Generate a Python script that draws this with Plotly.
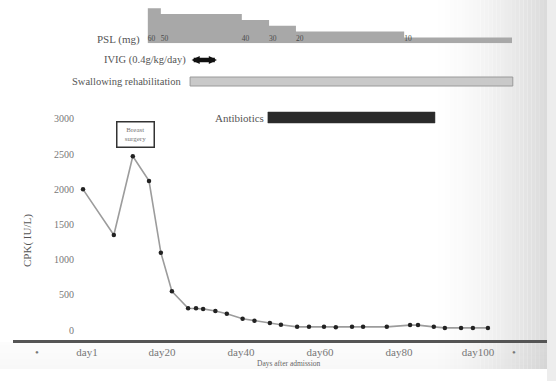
import plotly.graph_objects as go

# ---------------- data ----------------
cpk_days = [0, 7.8, 12.6, 16.7, 19.7, 22.5, 26.6, 28.6, 30.4, 33.5, 36.4, 40.4, 43.4,
            47.3, 50.1, 54.2, 57.2, 61.0, 64.0, 68.1, 70.9, 76.9, 82.8, 84.8, 88.8,
            91.6, 95.7, 98.7, 102.5]
cpk_values = [2000, 1350, 2470, 2120, 1100, 550, 310, 310, 300, 270, 230, 160, 130,
              100, 75, 45, 45, 45, 40, 45, 45, 45, 70, 70, 45, 30, 30, 30, 30]

psl_start_days = [16.4, 19.7, 40.2, 47.1, 53.9, 81.3, 108.6]
psl_dose_mg = [60, 50, 40, 30, 20, 10, 10]

ivig_days = [27.1, 33.9]
swallow_days = [27.1, 108.8]
antibiotic_days = [46.8, 89.1]
surgery_day = 13.2

tick_days = [-11.7, 1, 20, 40, 60, 80, 100, 109.1]
tick_text = ["•", "day1", "day20", "day40", "day60", "day80", "day100", "•"]
y_ticks = [0, 500, 1000, 1500, 2000, 2500, 3000]

FONT = "Liberation Serif"
W, H = 556, 381
ML, MR, MT, MB = 13, 9, 0, 41
PW = W - ML - MR
PH = H - MT - MB


def px_x(px):
    return (px - ML) / PW


def px_y(py):
    return (H - MB - py) / PH


fig = go.Figure()

# PSL step bars
fig.add_trace(go.Scatter(
    x=psl_start_days, y=psl_dose_mg, mode="lines", line_shape="hv",
    line=dict(width=0, color="#a8a8a8"), fill="tozeroy", fillcolor="#a8a8a8",
    yaxis="y2", hoverinfo="skip", showlegend=False))
fig.add_trace(go.Scatter(
    x=psl_start_days[:-1], y=[6.5] * (len(psl_dose_mg) - 1),
    text=[str(v) for v in psl_dose_mg[:-1]], mode="text", textposition="middle right",
    textfont=dict(family=FONT, size=7.5, color="#4a4a4a"), yaxis="y2",
    hoverinfo="skip", showlegend=False, cliponaxis=False))

# CPK curve
fig.add_trace(go.Scatter(
    x=cpk_days, y=cpk_values, mode="lines+markers",
    line=dict(color="#9c9c9c", width=1.6),
    marker=dict(size=4.5, color="#222"), showlegend=False, cliponaxis=False))

shapes = []
# background vignette (decorative)
n = 30
for i in range(n):
    x0 = 430 + i * (547 - 430) / n
    x1 = 430 + (i + 1) * (547 - 430) / n
    g = int(round(255 - 36 * ((i + 1) / n) ** 1.6))
    shapes.append(dict(type="rect", xref="paper", yref="paper", x0=px_x(x0), x1=px_x(x1),
                       y0=px_y(369), y1=px_y(0), fillcolor=f"rgb({g},{g},{g})",
                       line=dict(width=0), layer="below"))
shapes.append(dict(type="rect", xref="paper", yref="paper", x0=px_x(547), x1=px_x(556),
                   y0=px_y(381), y1=px_y(0), fillcolor="#ededed", line=dict(width=0), layer="below"))
for i in range(8):
    y0 = 342 + i * 27 / 8
    y1 = 342 + (i + 1) * 27 / 8
    a = 0.025 + 0.03 * i / 8
    shapes.append(dict(type="rect", xref="paper", yref="paper", x0=px_x(0), x1=px_x(547),
                       y0=px_y(y1), y1=px_y(y0), fillcolor=f"rgba(120,120,120,{a:.3f})",
                       line=dict(width=0), layer="below"))

# Swallowing rehabilitation bar
shapes.append(dict(type="rect", xref="x", yref="paper", x0=swallow_days[0], x1=swallow_days[1],
                   y0=px_y(86), y1=px_y(77), fillcolor="#c9c9c9",
                   line=dict(color="#9a9a9a", width=1)))
# Antibiotics bar
shapes.append(dict(type="rect", xref="x", yref="paper", x0=antibiotic_days[0], x1=antibiotic_days[1],
                   y0=px_y(123), y1=px_y(112), fillcolor="#2a2a2a",
                   line=dict(color="#333", width=0.5)))

annotations = [
    dict(text="PSL (mg)", x=14.9, xref="x", y=px_y(39), yref="paper", xanchor="right",
         yanchor="middle", showarrow=False, font=dict(family=FONT, size=11, color="#555")),
    dict(text="IVIG (0.4g/kg/day)", x=26.6, xref="x", y=px_y(60), yref="paper", xanchor="right",
         yanchor="middle", showarrow=False, font=dict(family=FONT, size=10.5, color="#555")),
    dict(text="Swallowing rehabilitation", x=25.6, xref="x", y=px_y(81), yref="paper",
         xanchor="right", yanchor="middle", showarrow=False,
         font=dict(family=FONT, size=10.5, color="#555")),
    dict(text="Antibiotics", x=46.3, xref="x", y=px_y(118), yref="paper", xanchor="right",
         yanchor="middle", showarrow=False, font=dict(family=FONT, size=11, color="#555")),
    dict(text="", x=ivig_days[1], xref="x", y=px_y(60), yref="paper",
         ax=ivig_days[0], axref="x", ay=0, ayref="pixel", showarrow=True,
         arrowhead=2, arrowside="end+start", arrowwidth=4.5, arrowsize=0.36, arrowcolor="#111"),
    dict(text="Breast<br>surgery", x=surgery_day, xref="x", y=2773, yref="y",
         xanchor="center", yanchor="middle",
         showarrow=False, font=dict(family=FONT, size=7, color="#777"),
         bordercolor="#333", borderwidth=1.5, borderpad=2, bgcolor="white",
         width=32, height=20),
    dict(text="CPK( IU/L)", x=px_x(28), xref="paper", y=px_y(241), yref="paper",
         xanchor="center", yanchor="middle",
         textangle=-90, showarrow=False, font=dict(family=FONT, size=11, color="#555")),
    dict(text="Days after admission", x=px_x(289), xref="paper", y=px_y(363), yref="paper",
         xanchor="center", yanchor="middle",
         showarrow=False, font=dict(family=FONT, size=7.5, color="#666")),
]

fig.update_layout(
    width=W, height=H, margin=dict(l=ML, r=MR, t=MT, b=MB),
    paper_bgcolor="white", plot_bgcolor="rgba(0,0,0,0)",
    font=dict(family=FONT, color="#777"),
    xaxis=dict(range=[-17.73, 117.46], showline=True, linecolor="#555", linewidth=2.5,
               tickvals=tick_days, ticktext=tick_text, ticks="", showgrid=False, zeroline=False,
               ticklabelstandoff=0,
               tickfont=dict(family=FONT, size=11, color="#777")),
    yaxis=dict(domain=[0, px_y(100)], range=[-142, 3270], anchor="free", position=px_x(74),
               tickvals=y_ticks, ticks="", showgrid=False, zeroline=False, showline=False,
               tickfont=dict(family=FONT, size=10, color="#777")),
    yaxis2=dict(domain=[px_y(43.3), 1], range=[0, 74.1], anchor="x", visible=False,
                showgrid=False, zeroline=False),
    shapes=shapes, annotations=annotations,
)

fig.write_html("out.html")
